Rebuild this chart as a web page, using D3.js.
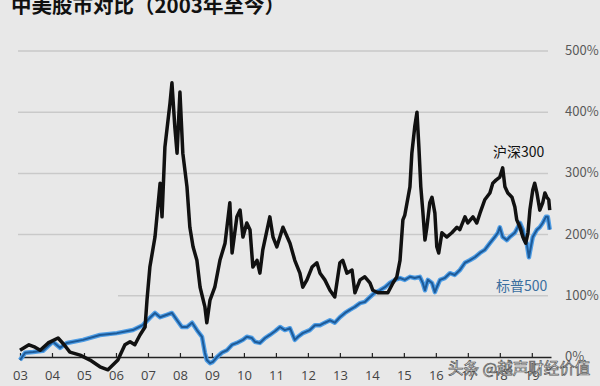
<!DOCTYPE html>
<html>
<head>
<meta charset="utf-8">
<script src="https://cdn.jsdelivr.net/npm/d3@7"></script>
<style>
  html, body { margin: 0; padding: 0; background: #e8e8e8; }
  svg { display: block; font-family: "Noto Sans CJK SC", "Noto Sans", sans-serif; }
</style>
</head>
<body>
<div id="chart"></div>
<script>
// chart values (x: decimal year, y: cumulative return %)
const title = "中美股市对比（2003年至今）";
const yearTicks = d3.range(2003, 2020);
const pctTicks = [0, 100, 200, 300, 400, 500];

const hsYears = [2003.00, 2003.28, 2003.47, 2003.63, 2003.88, 2004.19, 2004.38, 2004.56, 2004.88, 2005.19,
  2005.50, 2005.75, 2006.06, 2006.28, 2006.44, 2006.59, 2006.75, 2006.91, 2006.97, 2007.06,
  2007.22, 2007.38, 2007.44, 2007.53, 2007.69, 2007.75, 2007.84, 2007.91, 2008.00, 2008.09,
  2008.22, 2008.31, 2008.41, 2008.53, 2008.63, 2008.78, 2008.84, 2008.94, 2009.09, 2009.25,
  2009.41, 2009.56, 2009.63, 2009.78, 2009.88, 2009.97, 2010.09, 2010.19, 2010.28, 2010.41,
  2010.50, 2010.59, 2010.81, 2010.91, 2011.03, 2011.22, 2011.44, 2011.59, 2011.75, 2011.84,
  2011.97, 2012.13, 2012.28, 2012.38, 2012.53, 2012.69, 2012.84, 2013.00, 2013.09, 2013.22,
  2013.38, 2013.47, 2013.63, 2013.78, 2013.94, 2014.03, 2014.19, 2014.34, 2014.50, 2014.66,
  2014.78, 2014.88, 2014.97, 2015.03, 2015.19, 2015.25, 2015.34, 2015.41, 2015.47, 2015.53,
  2015.59, 2015.66, 2015.72, 2015.81, 2015.88, 2015.97, 2016.03, 2016.09, 2016.19, 2016.34,
  2016.50, 2016.66, 2016.75, 2016.91, 2017.00, 2017.16, 2017.28, 2017.38, 2017.53, 2017.69,
  2017.78, 2017.88, 2018.00, 2018.09, 2018.16, 2018.25, 2018.38, 2018.47, 2018.53, 2018.63,
  2018.72, 2018.81, 2018.88, 2018.94, 2019.03, 2019.09, 2019.16, 2019.25, 2019.34, 2019.41,
  2019.47, 2019.53, 2019.56];
const hs300 = [11, 20, 16, 11, 23, 31, 20, 8, 3, -5,
  -16, -21, -5, 20, 25, 20, 36, 49, 93, 147,
  196, 284, 229, 343, 415, 448, 376, 333, 433, 333,
  278, 212, 180, 158, 114, 82, 56, 93, 114, 158,
  186, 252, 170, 229, 240, 196, 219, 208, 147, 158,
  137, 175, 229, 196, 180, 212, 186, 158, 137, 114,
  126, 147, 154, 137, 126, 109, 98, 154, 158, 137,
  142, 105, 126, 131, 121, 109, 105, 105, 105, 121,
  131, 158, 224, 232, 278, 333, 376, 400, 343, 278,
  240, 191, 212, 252, 261, 235, 180, 170, 203, 196,
  203, 212, 208, 229, 219, 229, 219, 235, 257, 268,
  284, 289, 294, 309, 278, 268, 261, 245, 224, 212,
  196, 186, 203, 240, 273, 284, 268, 240, 252, 268,
  261, 257, 240];

const spYears = [2003.00, 2003.16, 2003.41, 2003.72, 2004.03, 2004.25, 2004.47, 2004.97, 2005.50, 2006.03,
  2006.53, 2006.84, 2007.06, 2007.22, 2007.38, 2007.59, 2007.75, 2007.91, 2008.06, 2008.22,
  2008.38, 2008.53, 2008.69, 2008.78, 2008.84, 2008.94, 2009.03, 2009.16, 2009.31, 2009.47,
  2009.63, 2009.78, 2009.97, 2010.09, 2010.25, 2010.34, 2010.50, 2010.66, 2010.81, 2010.97,
  2011.13, 2011.28, 2011.44, 2011.59, 2011.69, 2011.84, 2012.06, 2012.22, 2012.38, 2012.53,
  2012.69, 2012.84, 2013.00, 2013.16, 2013.31, 2013.47, 2013.63, 2013.78, 2013.94, 2014.09,
  2014.25, 2014.41, 2014.56, 2014.72, 2014.88, 2015.03, 2015.19, 2015.34, 2015.50, 2015.59,
  2015.66, 2015.75, 2015.88, 2015.97, 2016.03, 2016.13, 2016.28, 2016.44, 2016.59, 2016.75,
  2016.91, 2017.06, 2017.22, 2017.38, 2017.53, 2017.69, 2017.84, 2017.94, 2018.00, 2018.09,
  2018.22, 2018.31, 2018.47, 2018.63, 2018.72, 2018.78, 2018.84, 2018.91, 2018.97, 2019.03,
  2019.16, 2019.25, 2019.34, 2019.44, 2019.50, 2019.56];
const sp500 = [-5, 7, 8, 10, 25, 15, 23, 28, 36, 39,
  44, 52, 64, 72, 65, 69, 72, 60, 49, 49,
  56, 44, 33, 7, -5, -10, -8, 0, 7, 11,
  20, 23, 28, 33, 31, 25, 23, 31, 36, 42,
  49, 44, 47, 28, 33, 39, 44, 52, 52, 56,
  60, 56, 65, 72, 77, 82, 88, 90, 98, 105,
  109, 114, 121, 126, 129, 126, 131, 129, 131, 121,
  109, 126, 121, 106, 114, 126, 129, 137, 134, 142,
  154, 158, 163, 170, 175, 186, 196, 203, 212, 196,
  191, 196, 203, 219, 208, 191, 186, 163, 180, 196,
  208, 212, 219, 229, 229, 208];

const width = 600, height = 386;

const svg = d3.select("#chart").append("svg")
  .attr("width", width)
  .attr("height", height);

svg.append("rect").attr("width", width).attr("height", height).attr("fill", "#e8e8e8");

const x = d3.scaleLinear().domain([2003, 2019.6]).range([20, 551]);
const y = d3.scaleLinear().domain([0, 500]).range([357, 51]);

// gridlines (no line at 0, the axis sits there); the 100% one starts later in the original
svg.append("g")
  .selectAll("line")
  .data(pctTicks.filter(d => d > 0))
  .join("line")
  .attr("x1", d => d === 100 ? 118 : 18).attr("x2", 548)
  .attr("y1", d => y(d)).attr("y2", d => y(d))
  .attr("stroke", "#c9c9c9")
  .attr("stroke-width", 1.5);

// right-side percent labels
svg.append("g")
  .selectAll("text")
  .data(pctTicks)
  .join("text")
  .attr("x", 565)
  .attr("y", d => y(d) + 4)
  .attr("fill", "#5a5a5a")
  .style("font-size", "13px")
  .text(d => d + "%");

// x axis, ticks pointing up
const xAxis = svg.append("g")
  .attr("transform", `translate(0,${y(0)})`)
  .call(d3.axisBottom(x)
    .tickValues(yearTicks)
    .tickSizeInner(-4)
    .tickSizeOuter(0)
    .tickPadding(14)
    .tickFormat(d => String(d % 100).padStart(2, "0")));
xAxis.select(".domain").attr("stroke", "#222").attr("stroke-width", 1.5);
xAxis.selectAll(".tick line").attr("stroke", "#222").attr("stroke-width", 1.2);
xAxis.selectAll(".tick text")
  .attr("fill", "#444")
  .style("font-size", "13px")
  .style("font-family", "'Open Sans', 'Noto Sans', sans-serif");

const line = d3.line()
  .x(d => x(d[0]))
  .y(d => y(d[1]));

const hsData = hsYears.map((t, i) => [t, hs300[i]]);
const spData = spYears.map((t, i) => [t, sp500[i]]);

// S&P 500: light halo + dark core
svg.append("path")
  .datum(spData)
  .attr("fill", "none")
  .attr("stroke", "#4f9ee6")
  .attr("stroke-width", 4.5)
  .attr("stroke-linejoin", "round")
  .attr("d", line);
svg.append("path")
  .datum(spData)
  .attr("fill", "none")
  .attr("stroke", "#1d5a98")
  .attr("stroke-width", 2)
  .attr("stroke-linejoin", "round")
  .attr("d", line);

// CSI 300
svg.append("path")
  .datum(hsData)
  .attr("fill", "none")
  .attr("stroke", "#111")
  .attr("stroke-width", 3.5)
  .attr("stroke-linejoin", "round")
  .attr("d", line);

// series labels
svg.append("text")
  .attr("x", 493).attr("y", 157)
  .attr("fill", "#111")
  .style("font-size", "14px")
  .text("沪深300");
svg.append("text")
  .attr("x", 496).attr("y", 291)
  .attr("fill", "#3b6f9f")
  .style("font-size", "14px")
  .text("标普500");

// title, partly cut at the top
svg.append("text")
  .attr("x", 11).attr("y", 13)
  .attr("fill", "#111")
  .style("font-size", "20.5px")
  .style("font-weight", "bold")
  .text(title);

// watermark
svg.append("text")
  .attr("x", 448).attr("y", 374)
  .attr("fill", "#fff")
  .attr("stroke", "#555")
  .attr("stroke-width", 0.7)
  .style("font-size", "15.5px")
  .text("头条 @越声财经价值");
</script>
</body>
</html>
